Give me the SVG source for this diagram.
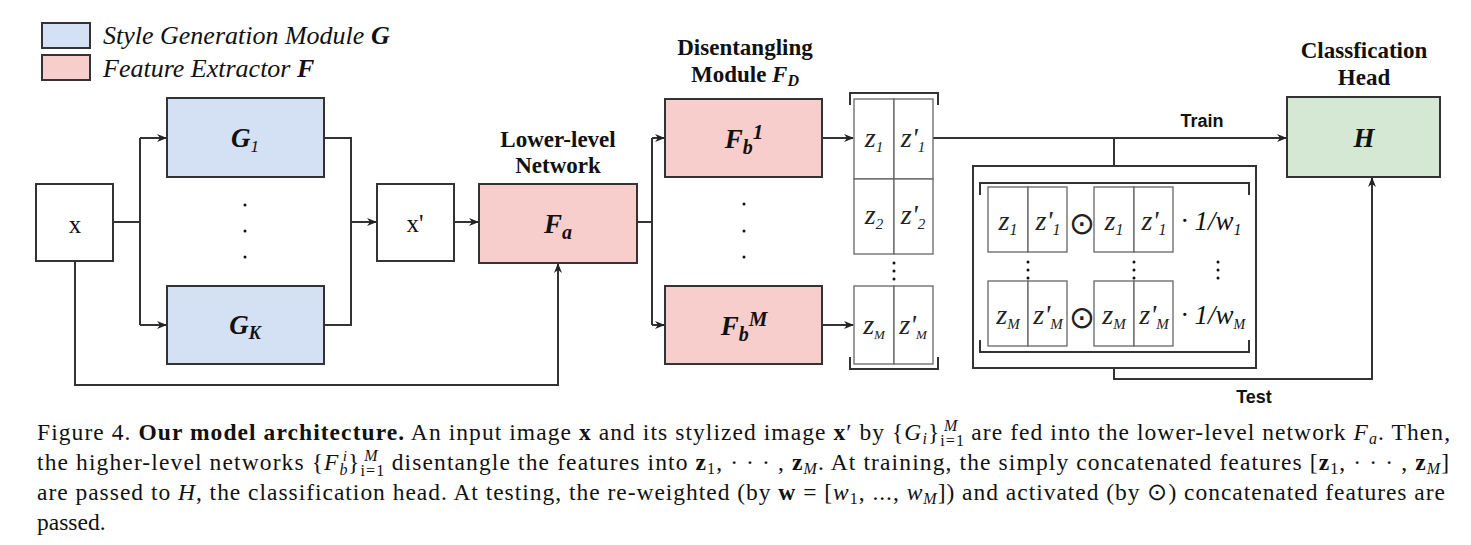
<svg xmlns="http://www.w3.org/2000/svg" width="1471" height="545" viewBox="0 0 1471 545">
<style>
.box{stroke:#333;stroke-width:2}
.blue{fill:#d4e1f5}
.pink{fill:#f8cecc}
.green{fill:#d5e8d4}
.white{fill:#fff}
.cell{fill:#fff;stroke:#666;stroke-width:1.3}
.ln{fill:none;stroke:#333;stroke-width:2}
.br{fill:none;stroke:#333;stroke-width:2}
.serif{font-family:"Liberation Serif","Times New Roman",serif;fill:#111}
.sans{font-family:"Liberation Sans",Arial,sans-serif;fill:#111;font-weight:bold}
.it{font-style:italic}
.bd{font-weight:bold}
.head{font-family:"Liberation Serif","Times New Roman",serif;font-weight:bold;font-size:23px;fill:#111;text-anchor:middle}
.lbl{font-family:"Liberation Serif","Times New Roman",serif;font-weight:bold;font-style:italic;font-size:27px;fill:#111;text-anchor:middle}
.z{font-family:"Liberation Serif","Times New Roman",serif;font-style:italic;font-size:28px;fill:#222;text-anchor:middle}
.cap{font-family:"Liberation Serif","Times New Roman",serif;font-size:23.5px;fill:#111}
.dot{fill:#111}
.od{font-family:"DejaVu Sans",sans-serif;font-size:31px;fill:#222;text-anchor:middle}
</style>
<defs>
<marker id="ah" viewBox="0 0 10 10" refX="9" refY="5" markerWidth="10" markerHeight="10" markerUnits="userSpaceOnUse" orient="auto">
<path d="M0,1 L10,5 L0,9 L3,5 z" fill="#222"/>
</marker>
</defs>

<g id="legend">
<rect x="42" y="23" width="48" height="25" class="box blue" stroke-width="1.5"/>
<rect x="42" y="55" width="48" height="25" class="box pink" stroke-width="1.5"/>
<text x="103" y="44" class="serif it" font-size="26">Style Generation Module <tspan class="bd">G</tspan></text>
<text x="103" y="77" class="serif it" font-size="26">Feature Extractor <tspan class="bd">F</tspan></text>
</g>

<g id="connectors">
<path class="ln" d="M113,222 H140"/>
<path class="ln" d="M140,138 V325"/>
<path class="ln" d="M140,138 H166" marker-end="url(#ah)"/>
<path class="ln" d="M140,325 H166" marker-end="url(#ah)"/>
<path class="ln" d="M324,138 H351 V325 H324"/>
<path class="ln" d="M351,222 H376" marker-end="url(#ah)"/>
<path class="ln" d="M454,222 H478" marker-end="url(#ah)"/>
<path class="ln" d="M75,261 V385 H558 V264" marker-end="url(#ah)"/>
<path class="ln" d="M637,222 H652"/>
<path class="ln" d="M652,138 V325"/>
<path class="ln" d="M652,138 H664" marker-end="url(#ah)"/>
<path class="ln" d="M652,325 H664" marker-end="url(#ah)"/>
<path class="ln" d="M822,138 H853" marker-end="url(#ah)"/>
<path class="ln" d="M822,325 H853" marker-end="url(#ah)"/>
<path class="ln" d="M933,138 H1286" marker-end="url(#ah)"/>
<path class="ln" d="M1114,138 V166"/>
<path class="ln" d="M1114,368 V379 H1372 V178" marker-end="url(#ah)"/>
<text x="1202" y="127" class="sans" font-size="18" text-anchor="middle">Train</text>
<text x="1254" y="403" class="sans" font-size="18" text-anchor="middle">Test</text>
</g>

<g id="node-x">
<rect x="36" y="184" width="77" height="77" class="box white"/>
<text x="75" y="233" class="serif" font-size="25" text-anchor="middle">x</text>
</g>

<g id="node-G1">
<rect x="167" y="98" width="157" height="79" class="box blue"/>
<text x="245" y="147" class="lbl">G<tspan font-size="17" font-weight="normal" baseline-shift="-5">1</tspan></text>
</g>
<g id="dots-G">
<circle cx="245" cy="205" r="1.5" class="dot"/>
<circle cx="245" cy="231" r="1.5" class="dot"/>
<circle cx="245" cy="257" r="1.5" class="dot"/>
</g>
<g id="node-GK">
<rect x="167" y="286" width="157" height="78" class="box blue"/>
<text x="245" y="334" class="lbl">G<tspan font-size="18" baseline-shift="-5">K</tspan></text>
</g>

<g id="node-xp">
<rect x="377" y="184" width="77" height="77" class="box white"/>
<text x="415" y="232" class="serif" font-size="25" text-anchor="middle">x'</text>
</g>

<g id="node-Fa">
<text x="558" y="147" class="head">Lower-level</text>
<text x="558" y="173" class="head">Network</text>
<rect x="479" y="184" width="158" height="79" class="box pink"/>
<text x="558" y="233" class="lbl">F<tspan font-size="20" baseline-shift="-6">a</tspan></text>
</g>

<g id="label-FD">
<text x="745" y="55" class="head">Disentangling</text>
<text x="745" y="82" class="head">Module <tspan font-style="italic">F<tspan font-size="16" baseline-shift="-4">D</tspan></tspan></text>
</g>

<g id="node-Fb1">
<rect x="665" y="99" width="157" height="78" class="box pink"/>
<text x="744" y="148" class="lbl">F<tspan font-size="20" baseline-shift="-6">b</tspan><tspan font-size="21" baseline-shift="9">1</tspan></text>
</g>
<g id="dots-F">
<circle cx="744" cy="204" r="1.5" class="dot"/>
<circle cx="744" cy="231" r="1.5" class="dot"/>
<circle cx="744" cy="257" r="1.5" class="dot"/>
</g>
<g id="node-FbM">
<rect x="665" y="286" width="157" height="78" class="box pink"/>
<text x="744" y="335" class="lbl">F<tspan font-size="20" baseline-shift="-6">b</tspan><tspan font-size="21" baseline-shift="9">M</tspan></text>
</g>

<g id="node-zcol">
<rect x="854" y="99" width="40" height="80" class="cell"/>
<rect x="894" y="99" width="39" height="80" class="cell"/>
<rect x="854" y="179" width="40" height="75" class="cell"/>
<rect x="894" y="179" width="39" height="75" class="cell"/>
<rect x="854" y="286" width="40" height="78" class="cell"/>
<rect x="894" y="286" width="39" height="78" class="cell"/>
<path class="br" d="M850,105 V93 H938 V105"/>
<path class="br" d="M850,357 V369 H938 V357"/>
<circle cx="894" cy="263" r="1.5" class="dot"/>
<circle cx="894" cy="271" r="1.5" class="dot"/>
<circle cx="894" cy="279" r="1.5" class="dot"/>
<text x="874" y="147" class="z">z<tspan font-size="15" baseline-shift="-5">1</tspan></text>
<text x="913" y="147" class="z">z'<tspan font-size="15" baseline-shift="-5">1</tspan></text>
<text x="874" y="224" class="z">z<tspan font-size="15" baseline-shift="-5">2</tspan></text>
<text x="913" y="224" class="z">z'<tspan font-size="15" baseline-shift="-5">2</tspan></text>
<text x="874" y="334" class="z">z<tspan font-size="13" baseline-shift="-5">M</tspan></text>
<text x="913" y="334" class="z">z'<tspan font-size="13" baseline-shift="-5">M</tspan></text>
</g>

<g id="node-test">
<rect x="973" y="166" width="283" height="202" class="box white"/>
<path class="br" d="M980,195 V183 H1249 V195"/>
<path class="br" d="M980,340 V352 H1249 V340"/>
<rect x="988" y="187" width="40" height="65" class="cell"/>
<rect x="1028" y="187" width="39" height="65" class="cell"/>
<rect x="1094" y="187" width="40" height="65" class="cell"/>
<rect x="1134" y="187" width="39" height="65" class="cell"/>
<rect x="988" y="281" width="40" height="65" class="cell"/>
<rect x="1028" y="281" width="39" height="65" class="cell"/>
<rect x="1094" y="281" width="40" height="65" class="cell"/>
<rect x="1134" y="281" width="39" height="65" class="cell"/>
<text x="1008" y="230" class="z">z<tspan font-size="16" baseline-shift="-5">1</tspan></text>
<text x="1048" y="230" class="z">z'<tspan font-size="16" baseline-shift="-5">1</tspan></text>
<text x="1114" y="230" class="z">z<tspan font-size="16" baseline-shift="-5">1</tspan></text>
<text x="1154" y="230" class="z">z'<tspan font-size="16" baseline-shift="-5">1</tspan></text>
<text x="1008" y="324" class="z">z<tspan font-size="15" baseline-shift="-5">M</tspan></text>
<text x="1048" y="324" class="z">z'<tspan font-size="15" baseline-shift="-5">M</tspan></text>
<text x="1114" y="324" class="z">z<tspan font-size="15" baseline-shift="-5">M</tspan></text>
<text x="1154" y="324" class="z">z'<tspan font-size="15" baseline-shift="-5">M</tspan></text>
<text x="1082" y="234" class="od">⊙</text>
<text x="1082" y="328" class="od">⊙</text>
<text x="1181" y="230" class="serif it" font-size="27" fill="#222">· 1/w<tspan font-size="16" baseline-shift="-5">1</tspan></text>
<text x="1181" y="324" class="serif it" font-size="27" fill="#222">· 1/w<tspan font-size="14" baseline-shift="-5">M</tspan></text>
<circle cx="1028" cy="262" r="1.5" class="dot"/>
<circle cx="1028" cy="270" r="1.5" class="dot"/>
<circle cx="1028" cy="278" r="1.5" class="dot"/>
<circle cx="1134" cy="262" r="1.5" class="dot"/>
<circle cx="1134" cy="270" r="1.5" class="dot"/>
<circle cx="1134" cy="278" r="1.5" class="dot"/>
<circle cx="1218" cy="262" r="1.5" class="dot"/>
<circle cx="1218" cy="270" r="1.5" class="dot"/>
<circle cx="1218" cy="278" r="1.5" class="dot"/>
</g>

<g id="node-H">
<text x="1364" y="58" class="head">Classfication</text>
<text x="1364" y="85" class="head">Head</text>
<rect x="1287" y="97" width="153" height="80" class="box green"/>
<text x="1364" y="147" class="lbl" font-size="28">H</text>
</g>

<g id="caption">
<text x="37" y="440" class="cap" textLength="1413" lengthAdjust="spacing">Figure 4. <tspan font-weight="bold">Our model architecture.</tspan> An input image <tspan font-weight="bold">x</tspan> and its stylized image <tspan font-weight="bold">x</tspan>′ by {<tspan font-style="italic">G</tspan><tspan font-style="italic" font-size="16" baseline-shift="-4">i</tspan>}<tspan font-size="16" baseline-shift="-6">i=1</tspan><tspan font-size="16" font-style="italic" baseline-shift="9" dx="-21">M</tspan><tspan dx="6"> are fed into the lower-level network </tspan><tspan font-style="italic">F</tspan><tspan font-style="italic" font-size="16" baseline-shift="-4">a</tspan>. Then,</text>
<text x="37" y="470" class="cap" textLength="1412" lengthAdjust="spacing">the higher-level networks {<tspan font-style="italic">F</tspan><tspan font-style="italic" font-size="16" baseline-shift="-5">b</tspan><tspan font-style="italic" font-size="15" baseline-shift="9" dx="-6">i</tspan>}<tspan font-size="16" baseline-shift="-6">i=1</tspan><tspan font-size="16" font-style="italic" baseline-shift="9" dx="-21">M</tspan><tspan dx="6"> disentangle the features into </tspan><tspan font-weight="bold">z</tspan><tspan font-size="16" baseline-shift="-4">1</tspan>, · · · , <tspan font-weight="bold">z</tspan><tspan font-size="16" font-style="italic" baseline-shift="-4">M</tspan>. At training, the simply concatenated features [<tspan font-weight="bold">z</tspan><tspan font-size="16" baseline-shift="-4">1</tspan>, · · · , <tspan font-weight="bold">z</tspan><tspan font-size="16" font-style="italic" baseline-shift="-4">M</tspan>]</text>
<text x="37" y="500" class="cap" textLength="1408" lengthAdjust="spacing">are passed to <tspan font-style="italic">H</tspan>, the classification head. At testing, the re-weighted (by <tspan font-weight="bold">w</tspan> = [<tspan font-style="italic">w</tspan><tspan font-size="16" baseline-shift="-4">1</tspan>, ..., <tspan font-style="italic">w</tspan><tspan font-size="16" font-style="italic" baseline-shift="-4">M</tspan>]) and activated (by ⊙) concatenated features are</text>
<text x="37" y="530" class="cap">passed.</text>
</g>
</svg>
